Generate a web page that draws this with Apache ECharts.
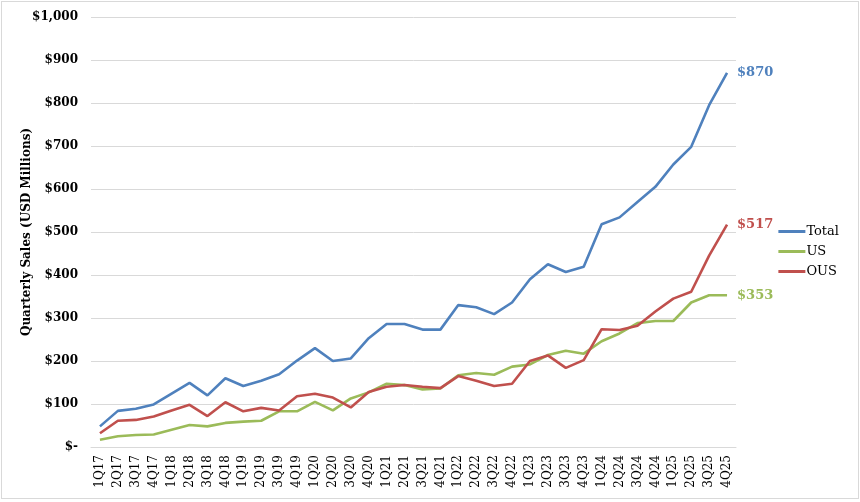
<!DOCTYPE html>
<html>
<head>
<meta charset="utf-8">
<script src="https://cdn.jsdelivr.net/npm/echarts@6/dist/echarts.min.js"></script>
<style>
  html, body { margin: 0; padding: 0; background: #fff; }
  #chart { position: absolute; left: 1px; top: 1px; width: 856px; height: 496px; border: 1px solid #d9d9d9; }
</style>
</head>
<body>
<div id="chart"></div>
<script>
// 季度类目
const quarters = [
  '1Q17', '2Q17', '3Q17', '4Q17', '1Q18', '2Q18', '3Q18', '4Q18',
  '1Q19', '2Q19', '3Q19', '4Q19', '1Q20', '2Q20', '3Q20', '4Q20',
  '1Q21', '2Q21', '3Q21', '4Q21', '1Q22', '2Q22', '3Q22', '4Q22',
  '1Q23', '2Q23', '3Q23', '4Q23', '1Q24', '2Q24', '3Q24', '4Q24',
  '1Q25', '2Q25', '3Q25', '4Q25'
];
// 各系列季度销售额（百万美元，读图估计）
const totalSales = [
  48, 84, 89, 99, 124, 149, 120, 160,
  142, 154, 169, 201, 230, 200, 206, 253,
  286, 286, 273, 273, 330, 325, 309, 336,
  390, 425, 407, 419, 518, 534, 570, 605,
  657, 698, 795, 870
];
const usSales = [
  17, 25, 28, 29, 40, 51, 48, 56,
  59, 61, 83, 83, 105, 85, 113, 127,
  147, 144, 134, 136, 167, 172, 168, 187,
  192, 214, 224, 217, 246, 264, 288, 293,
  293, 336, 353, 353
];
const ousSales = [
  32, 61, 63, 71, 85, 98, 72, 104,
  83, 91, 85, 118, 124, 115, 92, 128,
  140, 144, 140, 137, 165, 154, 142, 147,
  200, 213, 184, 202, 274, 272, 282, 315,
  345, 361, 445, 517
];
const seriesNames = ['Total', 'US', 'OUS'];

const COLORS = { total: '#4f81bd', us: '#9bbb59', ous: '#c0504d', grid: '#d9d9d9', text: '#000' };
const FONT = "'DejaVu Serif', 'Liberation Serif', serif";

// 末点标签 "$870" 之类
function endLabel(color) {
  return {
    show: true,
    distance: 10,
    color: color,
    fontFamily: FONT,
    fontWeight: 'bold',
    fontSize: 13,
    formatter: (p) => '$' + p.value,
  };
}

function lineSeries(name, data, color) {
  return {
    name: name,
    type: 'line',
    data: data,
    symbol: 'none',
    lineStyle: { width: 2.6, color: color },
    itemStyle: { color: color },
    endLabel: endLabel(color),
    animation: false,
  };
}

const chart = echarts.init(document.getElementById('chart'));
chart.setOption({
  backgroundColor: '#fff',
  textStyle: { fontFamily: FONT, color: COLORS.text },
  grid: { left: 89, right: 122, top: 15, bottom: 51, containLabel: false },
  legend: {
    orient: 'vertical',
    right: 14,
    top: 218,
    data: seriesNames,
    itemWidth: 27,
    itemHeight: 3,
    itemGap: 7,
    icon: 'rect',
    textStyle: { fontFamily: FONT, fontSize: 13, color: '#000', padding: [0, 0, 0, -4] },
  },
  xAxis: {
    type: 'category',
    data: quarters,
    boundaryGap: true,
    axisLine: { lineStyle: { color: COLORS.grid, width: 1 } },
    axisTick: { show: false },
    axisLabel: { rotate: 90, interval: 0, fontFamily: FONT, fontSize: 12, color: '#000', margin: 8 },
  },
  yAxis: {
    type: 'value',
    min: 0,
    max: 1000,
    interval: 100,
    name: 'Quarterly Sales (USD Millions)',
    nameLocation: 'middle',
    nameGap: 58,
    nameRotate: 90,
    nameMoveOverlap: false,
    nameTextStyle: { fontFamily: FONT, fontWeight: 'bold', fontSize: 12, color: '#000' },
    axisLine: { show: false },
    axisTick: { show: false },
    axisLabel: {
      fontFamily: FONT,
      fontWeight: 'bold',
      fontSize: 12,
      color: '#000',
      margin: 13,
      formatter: (v) => v === 0 ? '$-' : '$' + v.toLocaleString('en-US'),
    },
    splitLine: { lineStyle: { color: COLORS.grid, width: 1 } },
  },
  series: [
    lineSeries('Total', totalSales, COLORS.total),
    lineSeries('US', usSales, COLORS.us),
    lineSeries('OUS', ousSales, COLORS.ous),
  ],
});
</script>
</body>
</html>
